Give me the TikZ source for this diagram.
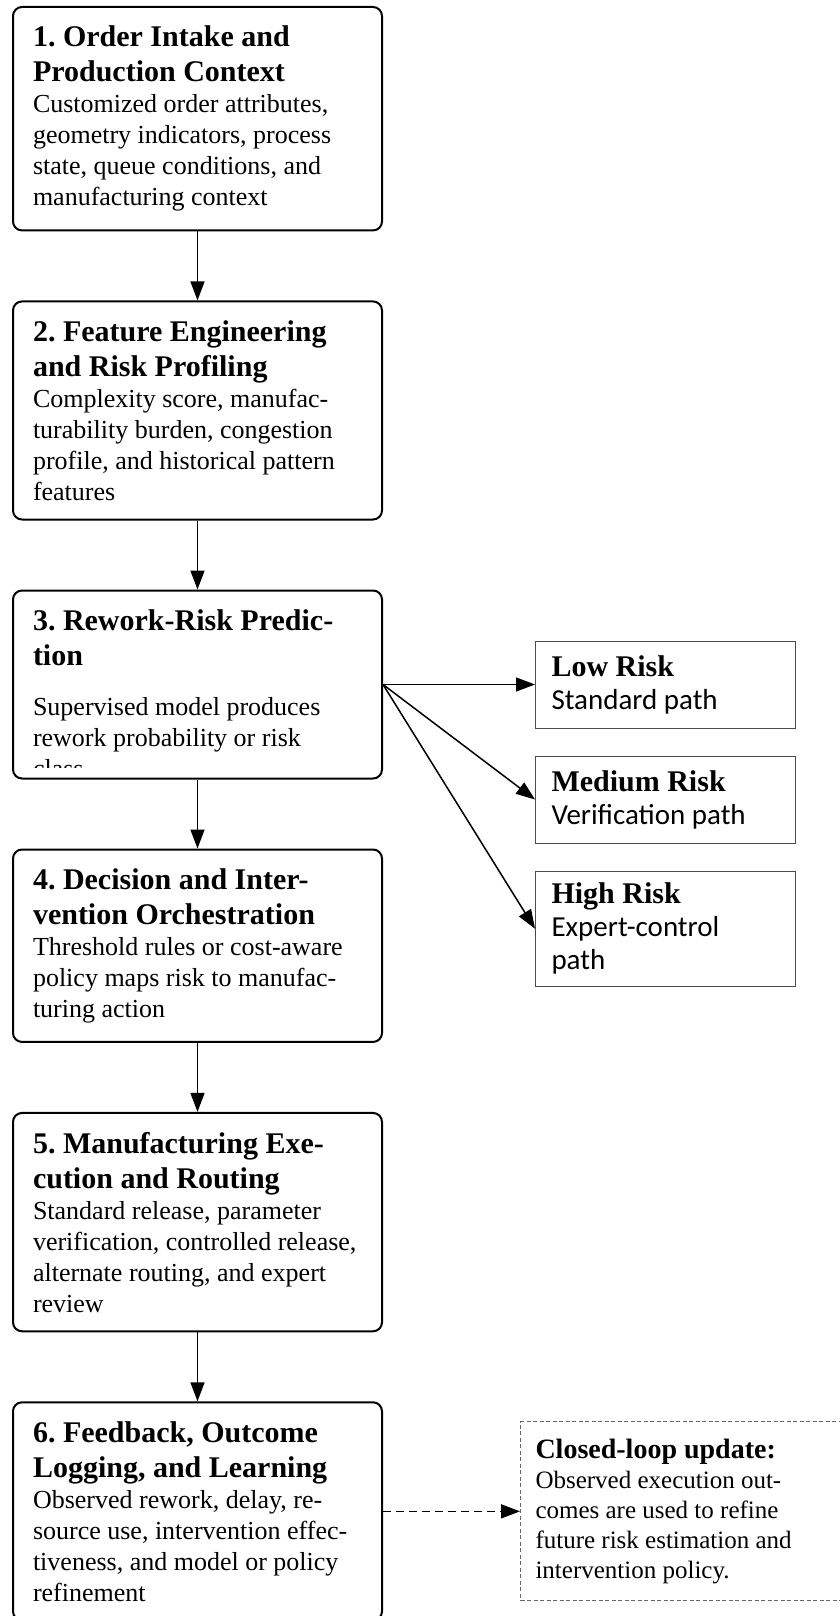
\documentclass[tikz,border=0pt]{standalone}
\usepackage{fontspec}
\setmainfont{Liberation Serif}
\newfontfamily\pathfont{Carlito}
\usetikzlibrary{positioning,arrows.meta}
% word spaces follow the font size (align=left fixes them at the default size otherwise)
\newcommand{\natspace}{\frenchspacing\spaceskip=0pt \xspaceskip=0pt }
\newcommand{\stagetitle}{\fontsize{30}{35}\selectfont\bfseries\natspace}
\newcommand{\stagebody}{\fontsize{26}{31}\selectfont\natspace}
\newcommand{\risktitle}{\fontsize{30}{35}\selectfont\bfseries\natspace}
\newcommand{\riskbody}{\fontsize{29}{33}\selectfont\pathfont\natspace}
\newcommand{\notetitle}{\fontsize{28}{33}\selectfont\bfseries\natspace}
\newcommand{\notebody}{\fontsize{25}{30}\selectfont\natspace}
\tikzstyle{stage} = [draw, line width=2pt, rounded corners=9pt, rectangle, text width=329pt, inner xsep=20pt, inner ysep=19pt, align=left]
\tikzstyle{risk} = [draw=black!70, line width=1pt, rectangle, text width=228pt, inner xsep=16pt, inner ysep=12pt, minimum height=87pt, align=left]
\tikzstyle{note} = [draw=black!60, dash pattern=on 4pt off 2.5pt, line width=1pt, rectangle, text width=305pt, inner xsep=15pt, inner ysep=17pt, align=left]
\tikzstyle{flow} = [->, line width=1.5pt]

\begin{document}
\begin{tikzpicture}[x=1pt, y=1pt, node distance=69pt, >={Triangle[length=19pt,width=14pt]}]
    \useasboundingbox (0,0) rectangle (840,-1616);
    % Stages
    \node [stage, anchor=north west] (intake) at (12,-6) {{\stagetitle 1. Order Intake and\\Production Context\par}\stagebody Customized order attributes,\\geometry indicators, process\\state, queue conditions, and\\manufacturing context\par};
    \node [stage, below=of intake] (profile) {{\stagetitle 2. Feature Engineering\\and Risk Profiling\par}\stagebody Complexity score, manufac-\\turability burden, congestion\\profile, and historical pattern\\features\par};
    \node [stage, below=of profile, minimum height=188pt] (predict) {};
    \node [stage, below=of predict] (decide) {{\stagetitle 4. Decision and Inter-\\vention Orchestration\par}\stagebody Threshold rules or cost-aware\\policy maps risk to manufac-\\turing action\par};
    \node [stage, below=of decide] (execute) {{\stagetitle 5. Manufacturing Exe-\\cution and Routing\par}\stagebody Standard release, parameter\\verification, controlled release,\\alternate routing, and expert\\review\par};
    \node [stage, below=of execute] (feedback) {{\stagetitle 6. Feedback, Outcome\\Logging, and Learning\par}\stagebody Observed rework, delay, re-\\source use, intervention effec-\\tiveness, and model or policy\\refinement\par};

    % stage 3 text runs past its box and is cut off
    \begin{scope}
        \clip (predict.north west) rectangle ([yshift=12pt]predict.south east);
        \node [stage, draw=none, anchor=north west] (predicttext) at (predict.north west) {{\stagetitle 3. Rework-Risk Predic-\\tion\par}\vspace{19pt}\stagebody Supervised model produces\\rework probability or risk\\class\par};
    \end{scope}

    % Risk classes
    \node [risk, right=152pt of predict] (low) {{\risktitle Low Risk\par}\riskbody Standard path\par};
    \node [risk, below=27pt of low] (medium) {{\risktitle Medium Risk\par}\riskbody Verification path\par};
    \node [risk, below=27pt of medium] (high) {{\risktitle High Risk\par}\riskbody Expert-control\\path\par};

    % Closed loop
    \node [note, right=137pt of feedback] (update) {{\notetitle Closed-loop update:\par}\notebody Observed execution out-\\comes are used to refine\\future risk estimation and\\intervention policy.\par};

    % Connections
    \draw [flow] (intake) -- (profile);
    \draw [flow] (profile) -- (predict);
    \draw [flow] (predict) -- (decide);
    \draw [flow] (decide) -- (execute);
    \draw [flow] (execute) -- (feedback);
    \draw [flow] (predict.east) -- (low);
    \draw [flow] (predict.east) -- (medium.west);
    \draw [flow] (predict.east) -- (high.west);
    \draw [flow, dash pattern=on 8pt off 5pt] (feedback) -- (update);
\end{tikzpicture}
\end{document}
